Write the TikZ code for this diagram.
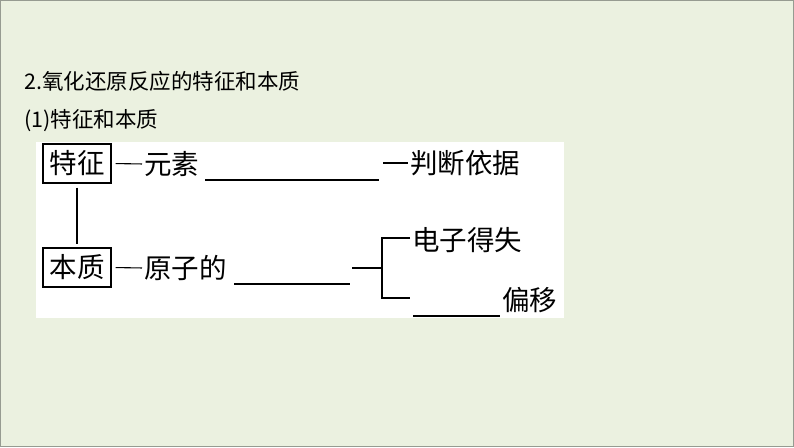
\documentclass[tikz,border=0pt]{standalone}
\usepackage{fontspec}
\setmainfont{Noto Sans CJK SC}
\newfontfamily\cjkf{Noto Sans CJK SC}
\definecolor{bgc}{RGB}{235,241,224}
\definecolor{framec}{RGB}{150,155,145}
\tikzset{
  lbl/.style={inner sep=0pt, anchor=west, font=\cjkf\fontsize{27.5}{30}\selectfont},
  ttl/.style={inner sep=0pt, anchor=west, font=\cjkf\fontsize{21.5}{24}\selectfont},
  boxnode/.style={draw, line width=1.2pt, minimum width=68pt, minimum height=39pt, inner sep=0pt, font=\cjkf\fontsize{27.5}{30}\selectfont},
  conn/.style={line width=1.1pt},
}
\begin{document}
\begin{tikzpicture}[x=1pt,y=-1pt]
\useasboundingbox (0,0) rectangle (794,447);
\fill[bgc] (0,0) rectangle (794,447);
\draw[framec, line width=1pt] (0.5,0.5) rectangle (793.5,446.5);
\fill[white] (36,142) rectangle (564,318);

\node[ttl] (t1) at (24,81) {2.氧化还原反应的特征和本质};
\node[ttl] (t2) at (24,121) {(1)特征和本质};

\node[boxnode] (tz) at (77,163.5) {特征};
\node[boxnode] (bz) at (77,267.5) {本质};
\draw[conn, shorten <=4pt, shorten >=3pt] (tz) -- (bz);

% row 1
\node[lbl] (ys) at (144,164) {元素};
\draw[conn, shorten <=4pt, shorten >=2pt] (tz.east) -- (ys.west);
\coordinate (b1s) at (205,180);
\coordinate (b1e) at (379,180);
\draw[conn] (b1s) -- (b1e);
\node[lbl] (pd) at (410,163) {判断依据};
\coordinate (d1) at (383,163);
\draw[conn, shorten >=2pt] (d1) -- (pd.west);

% row 2
\node[lbl] (yz) at (144,268) {原子的};
\draw[conn, shorten <=4pt, shorten >=2pt] (bz.east) -- (yz.west);
\coordinate (b2s) at (234,284);
\coordinate (b2e) at (350,284);
\draw[conn] (b2s) -- (b2e);
\coordinate (s2) at (352,268);
\coordinate (brm) at (382,268);
\draw[conn] (s2) -- (brm);
\node[lbl] (dz) at (412,240) {电子得失};
\node[lbl] (py) at (502,300) {偏移};
\coordinate (brt) at (382,238);
\coordinate (brb) at (382,298);
\coordinate (tpe) at (410,238);
\coordinate (bte) at (410,298);
\draw[conn] (tpe) -- (brt) -- (brb) -- (bte);
\coordinate (b3s) at (413,316);
\coordinate (b3e) at (500,316);
\draw[conn] (b3s) -- (b3e);
\end{tikzpicture}
\end{document}
